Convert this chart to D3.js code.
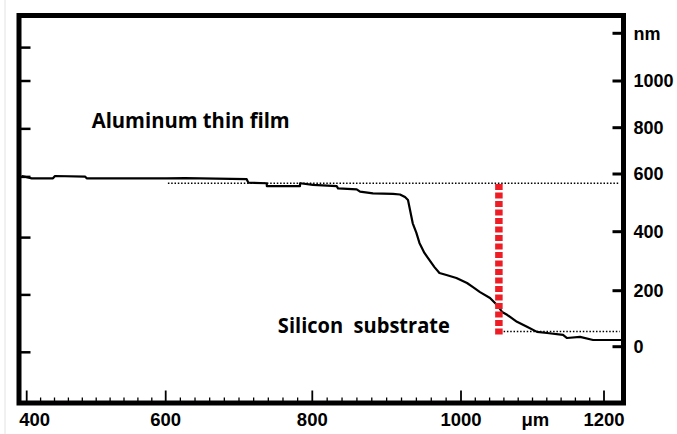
<!DOCTYPE html>
<html>
<head>
<meta charset="utf-8">
<script src="https://cdn.jsdelivr.net/npm/d3@7/dist/d3.min.js"></script>
<style>
  body { margin: 0; background: #fff; }
  svg { display: block; }
</style>
</head>
<body>
<div id="chart"></div>
<script>
// surface profile: scan position in um, height in nm
var traceX = [392.8, 407.2, 437.8, 440.7, 483.9, 486.3, 601.4, 626.3, 710.5, 712.7, 737.8, 738, 783.2, 783.3,
  800.9, 832.8, 834.6, 859.7, 864.2, 881.6, 908.5, 917.9, 924.7, 928.7, 935.1, 940, 944.1, 950.8, 957.6,
  964.3, 971, 980.4, 993.8, 1008.4, 1016.8, 1026.6, 1040.6, 1050.4, 1057.4, 1064.4, 1078.3, 1092.3,
  1106.3, 1120.3, 1142.7, 1148.3, 1166.5, 1184.7, 1223.8]
var traceY = [593, 585, 585, 593, 591, 585, 585, 586, 582, 570, 568, 558, 558, 568,
  562, 558, 550, 547, 539, 533, 531, 529, 520, 510, 429, 396, 362, 328, 304,
  280, 260, 253, 243, 226, 212, 195, 174, 149, 124, 114, 89, 71,
  53, 49, 42, 31, 35, 24, 24]

var xTicks = [400, 600, 800, 1000, 1200]
var xUnit = {label: "μm", at: 1104}
var yTicks = [0, 200, 400, 600, 800, 1000, 1200]
var yTickLabels = ["0", "200", "400", "600", "800", "1000", "nm"]
var leftTicks = [1140, 1000, 795, 590, 380, 185, -20]

var filmLevel = 568, substrateLevel = 54
var filmGuide = [603, 1222], substrateGuide = [1059.6, 1222]
var marker = {at: 1053, from: 565, to: 42}
var notes = [
  {text: "Aluminum thin film", x: 493.5, y: 800, len: 198},
  {text: "Silicon  substrate", x: 753, y: 50, len: 172}
]

var width = 677, height = 434
var svg = d3.select("#chart").append("svg")
  .attr("width", width)
  .attr("height", height)

// the scan is slightly uneven, so ticks are pinned one by one
var x = d3.scaleLinear().domain(xTicks).range([26.7, 165.7, 312.3, 461, 604])
var y = d3.scaleLinear().domain(yTicks).range([346.7, 290.7, 231.7, 174, 127.7, 81, 33.3])

// faint scan edge
svg.append("line")
  .attr("x1", 5).attr("x2", 5).attr("y1", 0).attr("y2", height)
  .attr("stroke", "#e2e2e2").attr("stroke-width", 1)

var font = "'Liberation Sans', Arial, sans-serif"

// bottom ticks
var minor = d3.range(420, 1220, 20).filter(function(d) { return d % 200 != 0 })
svg.append("g").selectAll("line").data(minor).enter().append("line")
  .attr("x1", function(d) { return x(d) }).attr("x2", function(d) { return x(d) })
  .attr("y1", 401).attr("y2", 397.5)
  .attr("stroke", "#000").attr("stroke-width", 1.3)
svg.append("g").selectAll("line").data(xTicks).enter().append("line")
  .attr("x1", function(d) { return x(d) }).attr("x2", function(d) { return x(d) })
  .attr("y1", 401).attr("y2", 390.5)
  .attr("stroke", "#000").attr("stroke-width", 1.8)

svg.append("g").selectAll("text").data(xTicks).enter().append("text")
  .attr("x", function(d) { return x(d) })
  .attr("dx", function(d, i) { return i == 0 ? 8 : 0 })
  .attr("y", 426)
  .attr("text-anchor", "middle")
  .style("font-family", font).style("font-weight", "bold").style("font-size", "18.5px")
  .text(function(d) { return d })
svg.append("text")
  .attr("x", x(xUnit.at)).attr("y", 426)
  .attr("text-anchor", "middle")
  .style("font-family", font).style("font-weight", "bold").style("font-size", "18.5px")
  .text(xUnit.label)

// right axis
svg.append("g").selectAll("line").data(yTicks).enter().append("line")
  .attr("x1", 612.5).attr("x2", 622)
  .attr("y1", function(d) { return y(d) }).attr("y2", function(d) { return y(d) })
  .attr("stroke", "#000").attr("stroke-width", 3)
svg.append("g").selectAll("text").data(yTicks).enter().append("text")
  .attr("x", 633.5)
  .attr("y", function(d) { return y(d) })
  .attr("dy", "0.36em")
  .style("font-family", font).style("font-weight", "bold").style("font-size", "18px")
  .text(function(d, i) { return yTickLabels[i] })

// left ticks, no labels
svg.append("g").selectAll("line").data(leftTicks).enter().append("line")
  .attr("x1", 20).attr("x2", 30.5)
  .attr("y1", function(d) { return y(d) }).attr("y2", function(d) { return y(d) })
  .attr("stroke", "#000").attr("stroke-width", 2.5)

// step guides
svg.append("line")
  .attr("x1", x(filmGuide[0])).attr("x2", x(filmGuide[1]))
  .attr("y1", y(filmLevel)).attr("y2", y(filmLevel))
  .attr("stroke", "#000").attr("stroke-width", 1.5).attr("stroke-dasharray", "1.5,1.8")
svg.append("line")
  .attr("x1", x(substrateGuide[0])).attr("x2", x(substrateGuide[1]))
  .attr("y1", y(substrateLevel)).attr("y2", y(substrateLevel))
  .attr("stroke", "#000").attr("stroke-width", 1.5).attr("stroke-dasharray", "1.5,1.8")

// profile trace
var line = d3.line()
  .x(function(d, i) { return x(traceX[i]) })
  .y(function(d) { return y(d) })
svg.append("path")
  .datum(traceY)
  .attr("d", line)
  .attr("fill", "none")
  .attr("stroke", "#000")
  .attr("stroke-width", 2.2)
  .attr("stroke-linejoin", "round")

// red marker
svg.append("line")
  .attr("x1", x(marker.at)).attr("x2", x(marker.at))
  .attr("y1", y(marker.from)).attr("y2", y(marker.to))
  .attr("stroke", "#ee1c25").attr("stroke-width", 7.5).attr("stroke-dasharray", "6,2.5")

// labels
svg.append("g").selectAll("text").data(notes).enter().append("text")
  .attr("x", function(d) { return x(d.x) })
  .attr("y", function(d) { return y(d.y) })
  .attr("textLength", function(d) { return d.len })
  .attr("lengthAdjust", "spacingAndGlyphs")
  .style("white-space", "pre")
  .style("font-family", "'Open Sans', 'Noto Sans', sans-serif")
  .style("font-weight", "bold").style("font-size", "21px")
  .text(function(d) { return d.text })

// frame
svg.append("rect")
  .attr("x", 19).attr("y", 15.5)
  .attr("width", 604.5).attr("height", 387.5)
  .attr("fill", "none")
  .attr("stroke", "#000").attr("stroke-width", 5)
</script>
</body>
</html>
